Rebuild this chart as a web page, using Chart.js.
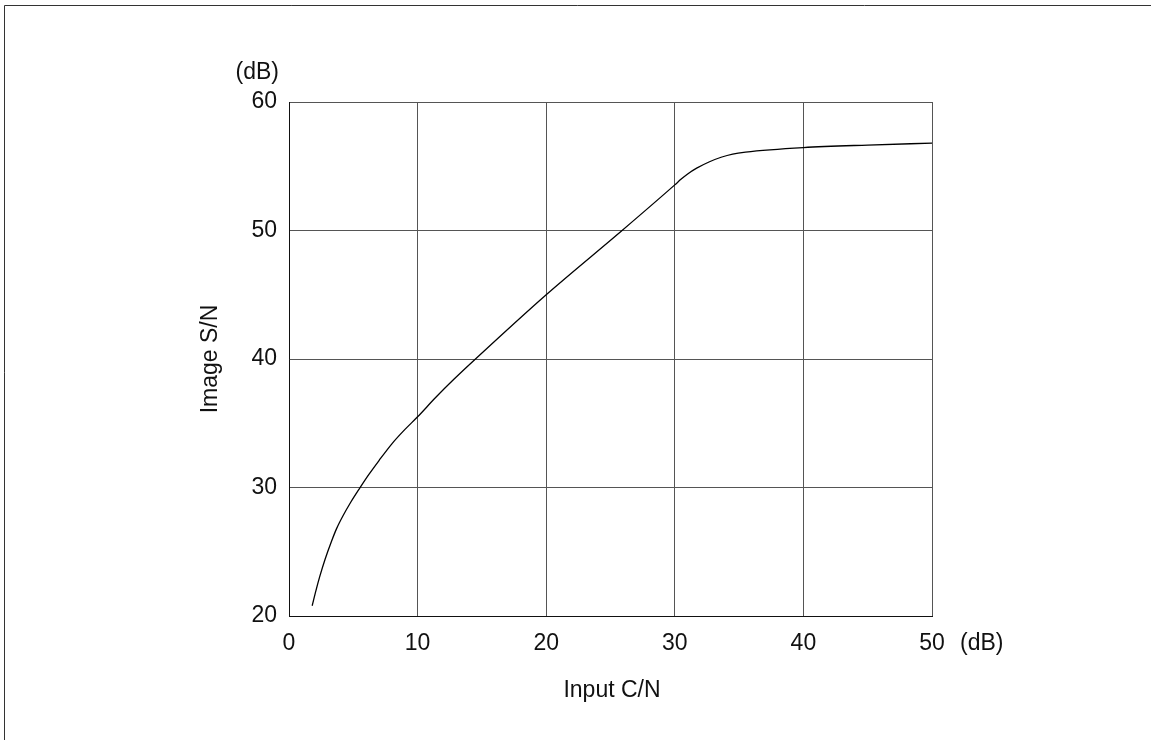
<!DOCTYPE html>
<html>
<head>
<meta charset="utf-8">
<script src="https://cdn.jsdelivr.net/npm/chart.js@4/dist/chart.umd.min.js"></script>
<style>
  html, body { margin: 0; padding: 0; background: #fff; }
  #wrap { position: relative; width: 1151px; height: 740px; }
</style>
</head>
<body>
<div id="wrap"><canvas id="chart" width="1151" height="740"></canvas></div>
<script>
// Data
const inputCN = [1.8, 2.1, 2.4, 2.8, 3.3, 3.7, 4.2, 4.8, 5.5, 6.2, 7.0, 8.0, 9.0, 10, 11.4, 12.8, 14.5, 20, 25.9, 30, 30.5, 31.0, 31.7, 32.7, 33.6, 34.5, 35.5, 40, 45, 50];
const imageSN = [20.8, 22.0, 23.1, 24.4, 25.8, 26.8, 27.8, 28.85, 29.95, 31.0, 32.1, 33.4, 34.5, 35.5, 37.0, 38.4, 40, 45, 50, 53.55, 54.0, 54.4, 54.85, 55.35, 55.7, 55.95, 56.1, 56.45, 56.65, 56.8];

const xTicks = [0, 10, 20, 30, 40, 50];
const yTicks = [20, 30, 40, 50, 60];

const FONT = "'Liberation Sans', Arial, sans-serif";
const SIZE = 23;

// Units, axis titles and the page frame, drawn on top
const labelsPlugin = {
  id: "labels",
  afterDraw(chart) {
    const ctx = chart.ctx;
    const area = chart.chartArea;
    ctx.save();
    ctx.fillStyle = "#111";
    ctx.font = `${SIZE}px ${FONT}`;
    ctx.textBaseline = "middle";

    ctx.textAlign = "right";
    ctx.fillText("(dB)", area.left - 10, 73);

    ctx.textAlign = "left";
    ctx.fillText("(dB)", area.right + 28, 644);

    ctx.textAlign = "center";
    ctx.fillText("Input C/N", 612, 691);

    ctx.translate(211, (area.top + area.bottom) / 2);
    ctx.rotate(-Math.PI / 2);
    ctx.fillText("Image S/N", 0, 0);
    ctx.restore();

    // frame lines (left and top only)
    ctx.save();
    ctx.strokeStyle = "#333";
    ctx.lineWidth = 1;
    ctx.beginPath();
    ctx.moveTo(4.5, 740);
    ctx.lineTo(4.5, 5.5);
    ctx.lineTo(1151, 5.5);
    ctx.stroke();
    ctx.restore();
  },
};

new Chart(document.getElementById("chart"), {
  type: "line",
  data: {
    datasets: [{
      data: inputCN.map((x, i) => ({ x, y: imageSN[i] })),
      borderColor: "#000",
      borderWidth: 1.3,
      pointRadius: 0,
      cubicInterpolationMode: "monotone",
      fill: false,
    }],
  },
  options: {
    responsive: false,
    animation: false,
    layout: { padding: { top: 102, right: 219, bottom: 0, left: 0 } },
    plugins: { legend: { display: false }, tooltip: { enabled: false } },
    scales: {
      x: {
        type: "linear",
        min: 0,
        max: 50,
        afterBuildTicks: (s) => { s.ticks = xTicks.map((v) => ({ value: v })); },
        afterFit: (s) => { s.height = 124; },
        grid: { color: "#555", lineWidth: 1, drawTicks: false },
        border: { color: "#111", width: 1 },
        ticks: { color: "#111", padding: 14, font: { family: FONT, size: SIZE } },
      },
      y: {
        type: "linear",
        min: 20,
        max: 60,
        afterBuildTicks: (s) => { s.ticks = yTicks.map((v) => ({ value: v })); },
        afterFit: (s) => { s.width = 289; },
        grid: { color: "#555", lineWidth: 1, drawTicks: false },
        border: { color: "#111", width: 1 },
        ticks: { color: "#111", padding: 12, font: { family: FONT, size: SIZE } },
      },
    },
  },
  plugins: [labelsPlugin],
});
</script>
</body>
</html>
